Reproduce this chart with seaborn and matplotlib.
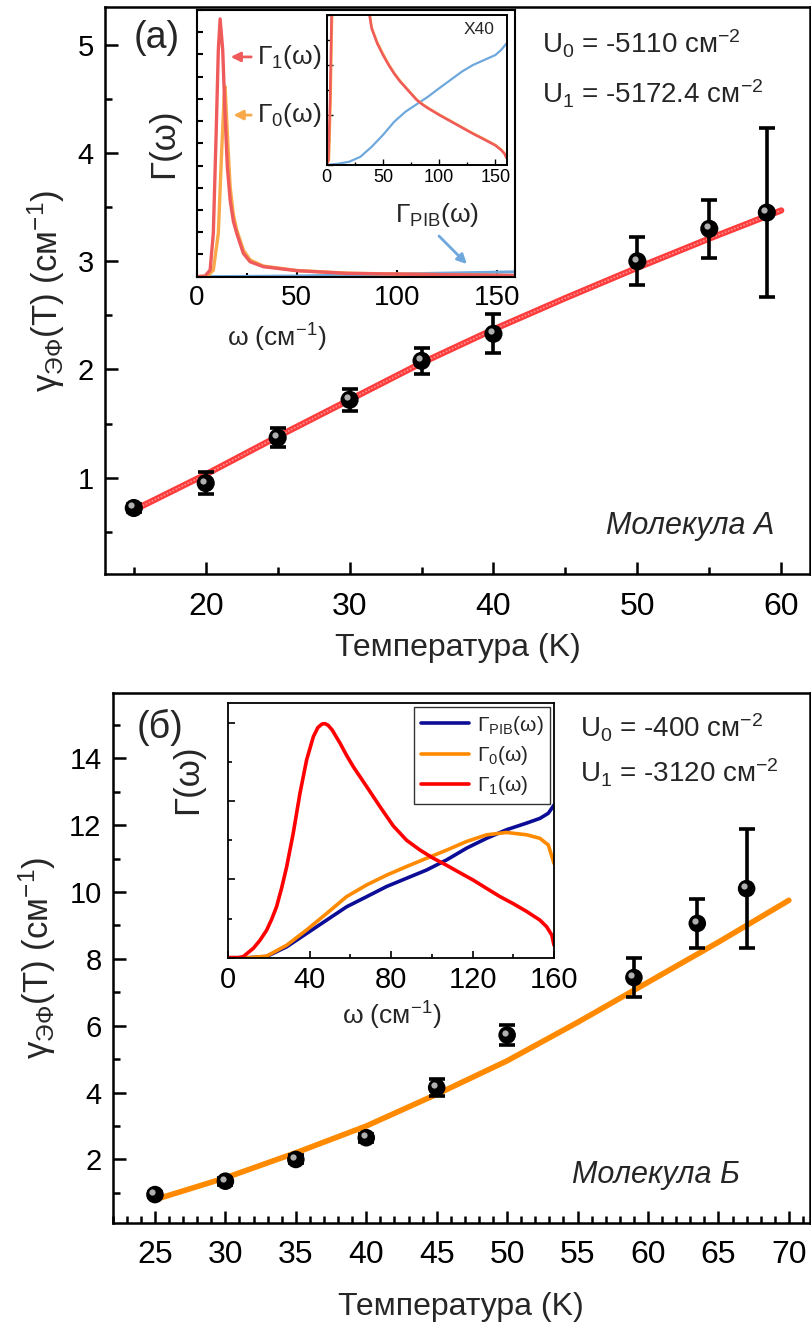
import numpy as np
import matplotlib
matplotlib.use('Agg')
import matplotlib.pyplot as plt
import matplotlib.transforms as mtransforms
from matplotlib.ticker import MultipleLocator
import seaborn as sns

sns.set_theme(style='ticks')
plt.rcParams['font.family'] = ['Liberation Sans', 'DejaVu Sans']
plt.rcParams['mathtext.fontset'] = 'custom'
plt.rcParams['mathtext.rm'] = 'Liberation Sans'
plt.rcParams['mathtext.it'] = 'Liberation Sans:italic'
plt.rcParams['axes.unicode_minus'] = False

# ---- панель (a): молекула A ----
t_a = [15, 20, 25, 30, 35, 40, 50, 55, 59]
g_a = [0.72, 0.95, 1.37, 1.72, 2.08, 2.33, 3.0, 3.3, 3.45]
e_a = [0.04, 0.1, 0.09, 0.1, 0.12, 0.18, 0.22, 0.27, 0.78]
fit_t_a = [15, 20, 25, 30, 35, 40, 45, 50, 55, 60]
fit_g_a = [0.70, 1.03, 1.38, 1.72, 2.06, 2.37, 2.66, 2.94, 3.21, 3.47]

# вставка (a): Γ(ω)
w_a1 = [0, 4.2, 6.7, 8.3, 9.7, 10.8, 11.7, 13.0, 14.2, 15.3, 16.7, 18.3, 20, 23.3, 26.7, 33.3, 50, 75, 100, 133, 160]
gam1_a = [0, 0.03, 0.3, 1.95, 6.4, 10.2, 11.6, 10.2, 7.2, 4.95, 3.45, 2.5, 1.95, 1.05, 0.67, 0.45, 0.27, 0.15, 0.12, 0.08, 0.05]
w_a0 = [0, 5.5, 8.3, 10.8, 12.5, 13.7, 14.2, 15.3, 16.7, 18.3, 20, 23.3, 26.7, 33.3, 50, 75, 100, 133, 160]
gam0_a = [0, 0.03, 0.3, 1.95, 5.7, 8.1, 8.55, 6.45, 4.05, 2.8, 2.1, 1.2, 0.75, 0.48, 0.28, 0.16, 0.12, 0.08, 0.05]
w_ap = [0, 20, 50, 80, 100, 130, 160]
gamp_a = [0, 0.01, 0.03, 0.08, 0.12, 0.17, 0.22]

# вставка X40
w_x = [0, 1.5, 3, 4.5, 6, 20, 30, 35, 38, 40, 45, 50, 55, 60, 65, 70, 75, 80, 85, 90, 100, 110, 120, 130, 140, 150, 155, 158, 160]
gam1_x = [0, 0.2, 2.6, 6.5, 12, 40, 10, 7.0, 6.0, 5.45, 4.85, 4.4, 4.0, 3.65, 3.35, 3.1, 2.85, 2.6, 2.42, 2.27,
          2.0, 1.75, 1.5, 1.25, 1.02, 0.78, 0.6, 0.45, 0.27]
w_x0 = [0, 2.0, 3.5, 5.0, 6.5, 20, 30, 35, 38, 40, 45, 50, 55, 60, 65, 70, 75, 80, 85, 90, 100, 110, 120, 130, 140, 150, 155, 158, 160]
gam0_x = [0, 0.2, 2.6, 6.5, 12, 40, 10, 7.1, 6.1, 5.5, 4.9, 4.45, 4.04, 3.68, 3.38, 3.12, 2.87, 2.62, 2.44, 2.29,
          2.02, 1.77, 1.52, 1.27, 1.04, 0.8, 0.62, 0.47, 0.29]
w_xp = [0, 10, 20, 30, 40, 50, 60, 70, 80, 90, 100, 110, 120, 130, 140, 150, 155, 160]
gamp_x = [0, 0.05, 0.13, 0.33, 0.73, 1.2, 1.73, 2.13, 2.43, 2.73, 3.07, 3.4, 3.73, 4.0, 4.2, 4.4, 4.6, 4.87]

# ---- панель (б): молекула Б ----
t_b = [25, 30, 35, 40, 45, 50, 59, 63.5, 67]
g_b = [0.95, 1.35, 2.0, 2.65, 4.15, 5.72, 7.44, 9.06, 10.1]
e_b = [0.08, 0.1, 0.12, 0.12, 0.25, 0.3, 0.58, 0.74, 1.78]
fit_t_b = [25, 30, 35, 40, 45, 50, 55, 60, 65, 70]
fit_g_b = [0.8, 1.45, 2.2, 3.0, 3.95, 4.95, 6.1, 7.3, 8.5, 9.75]

w_b1 = [0, 5, 7.4, 12.3, 15.5, 18.8, 21.2, 23.7, 26.2, 28.7, 31.9, 35.2, 38.5, 41.8, 44, 46, 47.5, 49, 51, 54.9,
        58, 61.4, 68, 74.5, 81, 87.6, 94.2, 100.7, 107.3, 113.8, 120.4, 126.9, 133.5, 140, 146.6, 153.1, 156.4, 158.9, 160]
gam1_b = [0, 0, 0.03, 0.24, 0.44, 0.7, 0.97, 1.3, 1.78, 2.33, 3.18, 4.2, 5.06, 5.65, 5.88, 5.97, 5.98, 5.94, 5.82, 5.48,
          5.18, 4.88, 4.37, 3.86, 3.37, 3.0, 2.75, 2.54, 2.36, 2.17, 1.98, 1.77, 1.56, 1.38, 1.18, 0.96, 0.79, 0.58, 0.32]
w_b = [0, 10, 18.8, 28.7, 38.5, 48.3, 58.1, 68, 77.8, 87.6, 97.4, 107.3, 117.1, 126.9, 136.7, 146.6, 153.1, 157.2, 160]
gamp_b = [0, 0, 0.03, 0.28, 0.62, 0.96, 1.3, 1.56, 1.82, 2.03, 2.24, 2.5, 2.8, 3.05, 3.27, 3.44, 3.56, 3.69, 3.9]
gam0_b = [0, 0, 0.04, 0.32, 0.71, 1.13, 1.56, 1.86, 2.11, 2.33, 2.54, 2.75, 2.97, 3.14, 3.2, 3.14, 3.05, 2.88, 2.41]

W, H = 812, 1324
fig = plt.figure(figsize=(W / 100, H / 100), dpi=100)


def box(l, t, r, b):
    return [l / W, 1 - b / H, (r - l) / W, (b - t) / H]


def style_ax(ax, lw=1.8):
    for s in ax.spines.values():
        s.set_visible(True)
        s.set_linewidth(lw)
        s.set_color('black')
    ax.tick_params(which='both', direction='in', top=False, right=False, colors='black', width=lw)
    ax.set_facecolor('white')


def spheres(ax, x, y, err, ms=170):
    ax.errorbar(x, y, yerr=err, fmt='none', ecolor='black', elinewidth=2.6, capsize=6, capthick=2.6, zorder=3)
    sns.scatterplot(x=x, y=y, ax=ax, s=ms, color='black', edgecolor='none', zorder=4)
    hl = mtransforms.offset_copy(ax.transData, fig=fig, x=-1.8, y=1.8, units='points')
    ax.plot(x, y, 'o', ms=4.5, color='#b0b0b0', mec='none', transform=hl, zorder=5)


# ===== (a) =====
ax1 = fig.add_axes(box(105, 7, 810, 574))
style_ax(ax1)
sns.lineplot(x=fit_t_a, y=fit_g_a, ax=ax1, color='#ff1a1a', lw=4.5, alpha=0.85, zorder=2)
sns.lineplot(x=fit_t_a, y=fit_g_a, ax=ax1, color='#ff9090', lw=1.2, ls=(0, (1, 1)), zorder=2)
spheres(ax1, t_a, g_a, e_a)
ax1.set_xlim(13, 62)
ax1.set_ylim(0.11, 5.35)
ax1.xaxis.set_major_locator(MultipleLocator(10))
ax1.xaxis.set_minor_locator(MultipleLocator(5))
ax1.yaxis.set_major_locator(MultipleLocator(1))
ax1.yaxis.set_minor_locator(MultipleLocator(0.5))
ax1.tick_params(which='major', length=9, labelsize=21, pad=8)
ax1.tick_params(axis='x', which='major', labelsize=23, pad=13)
ax1.tick_params(which='minor', length=5)
ax1.set_xlabel('Температура (K)', fontsize=23, labelpad=8)
ax1.set_ylabel('γ$_{\\mathrm{ЭФ}}$(T) (см$^{-1}$)', fontsize=25, labelpad=8)
ax1.text(0.04, 0.945, '(a)', transform=ax1.transAxes, fontsize=27, ha='left', va='center')
ax1.text(0.62, 0.935, 'U$_0$ = -5110 см$^{-2}$', transform=ax1.transAxes, fontsize=20, ha='left', va='center')
ax1.text(0.62, 0.847, 'U$_1$ = -5172.4 см$^{-2}$', transform=ax1.transAxes, fontsize=20, ha='left', va='center')
ax1.text(0.95, 0.085, 'Молекула А', transform=ax1.transAxes, fontsize=22, style='italic', ha='right', va='center')

# вставка (a)
in1 = fig.add_axes(box(196.7, 10, 515, 276.7))
style_ax(in1, lw=1.5)
sns.lineplot(x=w_ap, y=gamp_a, ax=in1, color='#6fa8dc', lw=2.2)
sns.lineplot(x=w_a0, y=gam0_a, ax=in1, color='#f9a84a', lw=2.4)
sns.lineplot(x=w_a1, y=gam1_a, ax=in1, color='#ef5b5b', lw=2.4)
in1.set_xlim(0, 159)
in1.set_ylim(0, 12)
in1.xaxis.set_major_locator(MultipleLocator(50))
in1.xaxis.set_minor_locator(MultipleLocator(25))
in1.yaxis.set_major_locator(MultipleLocator(1))
in1.set_yticklabels([])
in1.tick_params(which='major', length=5, labelsize=20, pad=6)
in1.tick_params(axis='y', length=4)
in1.tick_params(which='minor', length=3)
in1.set_xlabel('ω (см$^{-1}$)', fontsize=19, labelpad=2)
in1.xaxis.set_label_coords(0.25, -0.17)
in1.set_ylabel('Γ(ω)', fontsize=25, labelpad=6)
in1.annotate('', xy=(0.098, 0.824), xytext=(0.18, 0.824), xycoords='axes fraction',
             arrowprops=dict(arrowstyle='-|>', color='#ef5b5b', lw=2, mutation_scale=14))
in1.text(0.19, 0.824, 'Γ$_1$(ω)', transform=in1.transAxes, fontsize=19, ha='left', va='center')
in1.annotate('', xy=(0.107, 0.606), xytext=(0.18, 0.606), xycoords='axes fraction',
             arrowprops=dict(arrowstyle='-|>', color='#f9a84a', lw=2, mutation_scale=14))
in1.text(0.19, 0.606, 'Γ$_0$(ω)', transform=in1.transAxes, fontsize=19, ha='left', va='center')
in1.annotate('', xy=(0.855, 0.04), xytext=(0.755, 0.16), xycoords='axes fraction',
             arrowprops=dict(arrowstyle='-|>', color='#6fa8dc', lw=2, mutation_scale=14))
in1.text(0.755, 0.232, 'Γ$_{\\mathrm{PIB}}$(ω)', transform=in1.transAxes, fontsize=19, ha='center', va='center')

# вставка X40
in2 = fig.add_axes(box(326.7, 15, 506.7, 165))
style_ax(in2, lw=1.4)
sns.lineplot(x=w_xp, y=gamp_x, ax=in2, color='#6fa8dc', lw=1.6)
sns.lineplot(x=w_x0, y=gam0_x, ax=in2, color='#f9a84a', lw=1.8)
sns.lineplot(x=w_x, y=gam1_x, ax=in2, color='#ef5b5b', lw=1.8)
in2.set_xlim(0, 160)
in2.set_ylim(0, 6)
in2.xaxis.set_major_locator(MultipleLocator(50))
in2.xaxis.set_minor_locator(MultipleLocator(25))
in2.yaxis.set_major_locator(MultipleLocator(2))
in2.yaxis.set_minor_locator(MultipleLocator(1))
in2.set_yticklabels([])
in2.tick_params(which='major', length=4, labelsize=13, pad=3, width=1)
in2.tick_params(which='minor', length=2.5, width=1)
in2.text(0.93, 0.9, 'X40', transform=in2.transAxes, fontsize=12.5, ha='right', va='center')

# ===== (б) =====
ax2 = fig.add_axes(box(112.7, 693, 810, 1223))
style_ax(ax2)
sns.lineplot(x=fit_t_b, y=fit_g_b, ax=ax2, color='#ff8a00', lw=4, zorder=2)
spheres(ax2, t_b, g_b, e_b, ms=160)
ax2.set_xlim(22, 71.5)
ax2.set_ylim(0.1, 15.95)
ax2.xaxis.set_major_locator(MultipleLocator(5))
ax2.xaxis.set_minor_locator(MultipleLocator(1))
ax2.yaxis.set_major_locator(MultipleLocator(2))
ax2.yaxis.set_minor_locator(MultipleLocator(1))
ax2.tick_params(which='major', length=9, labelsize=21, pad=8)
ax2.tick_params(axis='x', which='major', labelsize=23, pad=12)
ax2.tick_params(which='minor', length=5)
ax2.set_xlabel('Температура (K)', fontsize=23, labelpad=16)
ax2.set_ylabel('γ$_{\\mathrm{ЭФ}}$(T) (см$^{-1}$)', fontsize=25, labelpad=8)
ax2.text(0.035, 0.935, '(б)', transform=ax2.transAxes, fontsize=27, ha='left', va='center')
ax2.text(0.67, 0.935, 'U$_0$ = -400 см$^{-2}$', transform=ax2.transAxes, fontsize=20, ha='left', va='center')
ax2.text(0.67, 0.85, 'U$_1$ = -3120 см$^{-2}$', transform=ax2.transAxes, fontsize=20, ha='left', va='center')
ax2.text(0.9, 0.09, 'Молекула Б', transform=ax2.transAxes, fontsize=22, style='italic', ha='right', va='center')

# вставка (б)
in3 = fig.add_axes(box(228.3, 703.3, 554, 957.7))
style_ax(in3, lw=1.3)
sns.lineplot(x=w_b, y=gamp_b, ax=in3, color='#0c0c96', lw=2.6, label='Γ$_{\\mathrm{PIB}}$(ω)')
sns.lineplot(x=w_b, y=gam0_b, ax=in3, color='#ff8a00', lw=2.6, label='Γ$_0$(ω)')
sns.lineplot(x=w_b1, y=gam1_b, ax=in3, color='#ff0000', lw=2.6, label='Γ$_1$(ω)')
in3.set_xlim(0, 160)
in3.set_ylim(0, 6.5)
in3.xaxis.set_major_locator(MultipleLocator(40))
in3.xaxis.set_minor_locator(MultipleLocator(20))
in3.yaxis.set_major_locator(MultipleLocator(2))
in3.yaxis.set_minor_locator(MultipleLocator(1))
in3.set_yticklabels([])
in3.tick_params(which='major', length=5, labelsize=21, pad=6, width=1.2)
in3.tick_params(which='minor', length=3, width=1.2)
in3.set_xlabel('ω (см$^{-1}$)', fontsize=19, labelpad=4)
in3.set_ylabel('Γ(ω)', fontsize=25, labelpad=6)
in3.yaxis.set_label_coords(-0.075, 0.7)
leg = in3.legend(loc='upper right', fontsize=15, frameon=True, fancybox=False, edgecolor='black',
                 handlelength=2.3, borderpad=0.3, labelspacing=0.35, handletextpad=0.4, borderaxespad=0.2)
leg.get_frame().set_linewidth(1.0)

fig.savefig('out.png', dpi=100, facecolor='white')
